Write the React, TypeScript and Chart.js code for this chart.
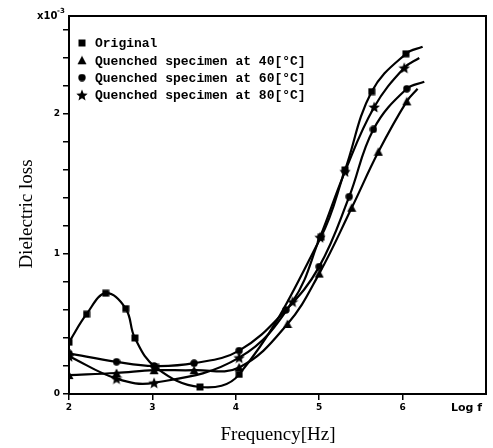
import { useEffect, useRef } from 'react';
import { Chart, registerables } from 'chart.js';

Chart.register(...registerables);

// ---- data (log f, dielectric loss x10^-3) ----
const originalX = [2.0, 2.21, 2.44, 2.68, 2.79, 3.04, 3.57, 4.04, 5.02, 5.31, 5.63, 6.04, 6.24];
const originalY = [0.37, 0.57, 0.72, 0.61, 0.40, 0.19, 0.05, 0.14, 1.12, 1.60, 2.16, 2.43, 2.48];

const q40X = [2.0, 2.57, 3.02, 3.5, 4.04, 4.62, 5.0, 5.39, 5.71, 6.05, 6.18];
const q40Y = [0.135, 0.15, 0.17, 0.17, 0.19, 0.5, 0.86, 1.33, 1.73, 2.09, 2.18];

const q60X = [2.0, 2.57, 3.02, 3.5, 4.04, 4.6, 5.0, 5.36, 5.65, 6.05, 6.26];
const q60Y = [0.29, 0.23, 0.2, 0.22, 0.31, 0.6, 0.91, 1.41, 1.89, 2.18, 2.23];

const q80X = [2.0, 2.57, 3.02, 4.04, 4.68, 5.01, 5.31, 5.66, 6.02, 6.2];
const q80Y = [0.27, 0.11, 0.08, 0.26, 0.66, 1.12, 1.59, 2.05, 2.33, 2.4];

const seriesLabels = [
  'Original',
  'Quenched specimen at 40[°C]',
  'Quenched specimen at 60[°C]',
  'Quenched specimen at 80[°C]',
];
const markerKinds = ['square', 'triangle', 'circle', 'star'];

const xTickValues = [2, 3, 4, 5, 6];
const yLabelValues = [0, 1, 2];
const yMinorStep = 0.2;
const yMax = 2.7;
const xMin = 2;
const xMax = 7;

function makeMarker(kind: string): HTMLCanvasElement {
  const size = kind === 'star' ? 12 : kind === 'triangle' ? 10 : 8;
  const c = document.createElement('canvas');
  c.width = size;
  c.height = size;
  const g = c.getContext('2d')!;
  g.fillStyle = '#000';
  const h = size / 2;
  g.beginPath();
  if (kind === 'square') {
    g.rect(0.5, 0.5, size - 1, size - 1);
  } else if (kind === 'triangle') {
    g.moveTo(h, 0.5);
    g.lineTo(size - 0.5, size - 1);
    g.lineTo(0.5, size - 1);
    g.closePath();
  } else if (kind === 'circle') {
    g.arc(h, h, h - 0.3, 0, Math.PI * 2);
  } else {
    const R = h;
    const r = h * 0.45;
    for (let i = 0; i < 10; i++) {
      const a = -Math.PI / 2 + (i * Math.PI) / 5;
      const rr = i % 2 === 0 ? R : r;
      const px = h + rr * Math.cos(a);
      const py = h + 0.6 + rr * Math.sin(a);
      if (i === 0) g.moveTo(px, py);
      else g.lineTo(px, py);
    }
    g.closePath();
  }
  g.fill();
  return c;
}

export default function App() {
  const ref = useRef<HTMLCanvasElement>(null);

  useEffect(() => {
    const canvas = ref.current!;
    const markers = markerKinds.map(makeMarker);
    const xs = [originalX, q40X, q60X, q80X];
    const ys = [originalY, q40Y, q60Y, q80Y];

    const datasets = seriesLabels.map((label, i) => {
      const n = xs[i].length;
      return {
        label,
        data: xs[i].map((x, j) => ({ x, y: ys[i][j] })),
        borderColor: '#000',
        backgroundColor: '#000',
        borderWidth: 2.2,
        tension: 0.4,
        pointStyle: markers[i],
        pointRadius: (ctx: any) => (ctx.dataIndex === n - 1 ? 0 : 4),
        pointHoverRadius: 0,
      };
    });

    const decor = {
      id: 'decor',
      afterDatasetsDraw(chart: any) {
        const { ctx, chartArea: a } = chart;
        ctx.save();
        ctx.strokeStyle = '#000';
        ctx.lineWidth = 2;
        ctx.strokeRect(a.left, a.top, a.right - a.left, a.bottom - a.top);

        // legend
        ctx.fillStyle = '#000';
        ctx.textBaseline = 'middle';
        ctx.textAlign = 'left';
        ctx.font = 'bold 13px "Liberation Mono", "DejaVu Sans Mono", monospace';
        seriesLabels.forEach((lab, i) => {
          const y = 43 + i * 17.3;
          const m = markers[i];
          ctx.drawImage(m, 82 - m.width / 2, y - m.height / 2);
          ctx.fillText(lab, 95, y + 1);
        });

        // multiplier
        ctx.font = 'bold 10px "DejaVu Sans", sans-serif';
        ctx.textBaseline = 'alphabetic';
        ctx.fillText('x10', 37, 19);
        ctx.font = 'bold 7px "DejaVu Sans", sans-serif';
        ctx.fillText('-3', 57, 13);

        // Log f
        ctx.font = 'bold 11px "DejaVu Sans", sans-serif';
        ctx.textBaseline = 'middle';
        ctx.fillText('Log f', 451, 408);

        // x title
        ctx.font = '19px "Liberation Serif", serif';
        ctx.textAlign = 'center';
        ctx.fillText('Frequency[Hz]', 278, 435);

        // y title
        ctx.translate(27, 214);
        ctx.rotate(-Math.PI / 2);
        ctx.fillText('Dielectric loss', 0, 0);
        ctx.restore();
      },
    };

    const chart = new Chart(canvas, {
      type: 'line',
      data: { datasets: datasets as any },
      options: {
        animation: false,
        responsive: false,
        devicePixelRatio: 1,
        layout: { padding: { top: 16, right: 7, left: 0, bottom: 0 } },
        plugins: {
          legend: { display: false },
          tooltip: { enabled: false },
        },
        scales: {
          x: {
            type: 'linear',
            min: xMin,
            max: xMax,
            afterBuildTicks: (s: any) => {
              s.ticks = xTickValues.map((v) => ({ value: v }));
            },
            afterFit: (s: any) => {
              s.height = 54;
            },
            ticks: {
              color: '#000',
              font: { family: '"DejaVu Sans", sans-serif', weight: 'bold', size: 9 },
              padding: 2,
              maxRotation: 0,
              callback: (v: any) => String(v),
            },
            grid: { drawOnChartArea: false, color: '#000', lineWidth: 1.5, tickLength: 6 },
            border: { color: '#000', width: 2 },
          },
          y: {
            type: 'linear',
            min: 0,
            max: yMax,
            afterBuildTicks: (s: any) => {
              const t = [];
              for (let k = 0; k * yMinorStep <= yMax - 0.05; k++) t.push({ value: +(k * yMinorStep).toFixed(2) });
              s.ticks = t;
            },
            afterFit: (s: any) => {
              s.width = 69;
            },
            ticks: {
              color: '#000',
              font: { family: '"DejaVu Sans", sans-serif', weight: 'bold', size: 9 },
              padding: 3,
              callback: (v: any) => (yLabelValues.some((u) => Math.abs(u - v) < 1e-6) ? String(Math.round(v)) : ''),
            },
            grid: { drawOnChartArea: false, color: '#000', lineWidth: 1.5, tickLength: 6 },
            border: { color: '#000', width: 2 },
          },
        },
      },
      plugins: [decor],
    });
    return () => chart.destroy();
  }, []);

  return (
    <div style={{ position: 'absolute', left: 0, top: 0, width: 493, height: 448, background: '#fff' }}>
      <canvas ref={ref} width={493} height={448} style={{ display: 'block', width: 493, height: 448 }} />
    </div>
  );
}
